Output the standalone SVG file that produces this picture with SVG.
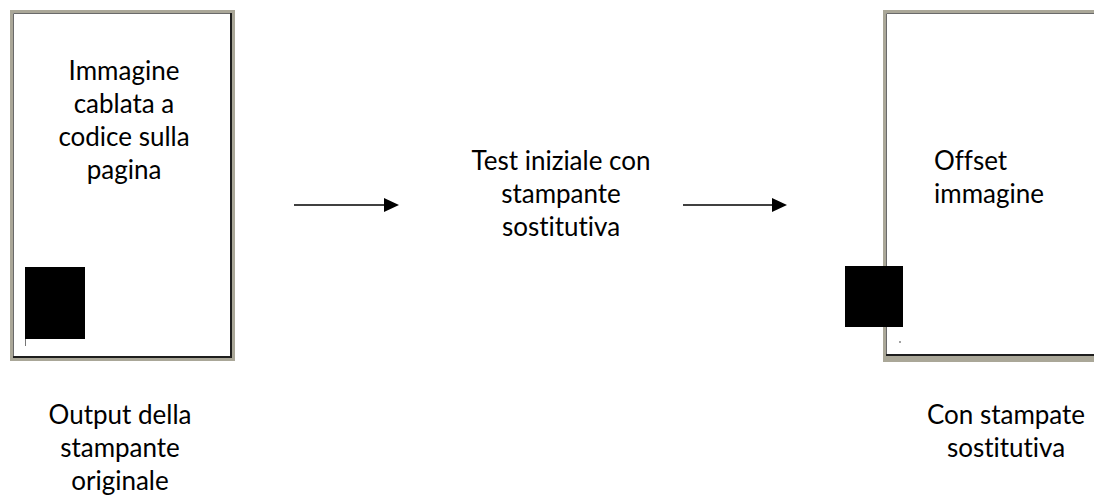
<svg xmlns="http://www.w3.org/2000/svg" width="1094" height="498" viewBox="0 0 1094 498">
<style>
.t{font-family:Lato,"Open Sans","Liberation Sans",sans-serif;font-size:26px;fill:#000;font-variant-ligatures:none;font-feature-settings:"liga" 0}
.c{text-anchor:middle}
.frame{fill:#aaa798}
.page{fill:#fff}
.lt{fill:none;stroke:#6a6a6a;stroke-width:1}
.rb{fill:none;stroke:#1e1e1e;stroke-width:2}
.conn{stroke:#000;stroke-width:1.6;fill:none}
</style>
<defs>
<marker id="ah" markerUnits="userSpaceOnUse" markerWidth="16" markerHeight="16" refX="1" refY="7" orient="auto">
<polygon points="0,0 15,7 0,14" fill="#000"/>
</marker>
</defs>
<rect width="1094" height="498" fill="#fff"/>
<g id="page-original">
<rect class="frame" x="10" y="10" width="225" height="351"/>
<rect class="page" x="13" y="13" width="218" height="344"/>
<path class="lt" d="M13.5,357 V13.5 H231"/>
<path class="rb" d="M231,13 V357 H13"/>
<rect x="25" y="267" width="60" height="72" fill="#000"/>
<line x1="25.5" y1="339" x2="25.5" y2="346" stroke="#777" stroke-width="1"/>
<text class="t c" x="124"><tspan x="124" y="80">Immagine</tspan><tspan x="124" y="113">cablata a</tspan><tspan x="124" y="146">codice sulla</tspan><tspan x="124" y="179">pagina</tspan></text>
</g>
<g id="label-original">
<text class="t c"><tspan x="120" y="424">Output della</tspan><tspan x="120" y="457">stampante</tspan><tspan x="120" y="490">originale</tspan></text>
</g>
<g id="test-step">
<text class="t c"><tspan x="561" y="170">Test iniziale con</tspan><tspan x="561" y="203">stampante</tspan><tspan x="561" y="236">sostitutiva</tspan></text>
</g>
<g id="page-offset">
<rect class="frame" x="883" y="10" width="220" height="352"/>
<rect class="page" x="886" y="13" width="220" height="342"/>
<path class="lt" d="M886.5,355 V13.5 H1100"/>
<path class="rb" d="M886,355 H1100"/>
<rect x="845" y="266" width="58" height="61" fill="#000"/>
<circle cx="900" cy="342" r="0.9" fill="#777"/>
<text class="t"><tspan x="934" y="170">Offset</tspan><tspan x="934" y="203">immagine</tspan></text>
</g>
<g id="label-offset">
<text class="t c"><tspan x="1006" y="424">Con stampate</tspan><tspan x="1006" y="457">sostitutiva</tspan></text>
</g>
<g id="connectors">
<line class="conn" x1="294" y1="205" x2="385" y2="205" marker-end="url(#ah)"/>
<line class="conn" x1="683" y1="205" x2="773" y2="205" marker-end="url(#ah)"/>
</g>
</svg>
